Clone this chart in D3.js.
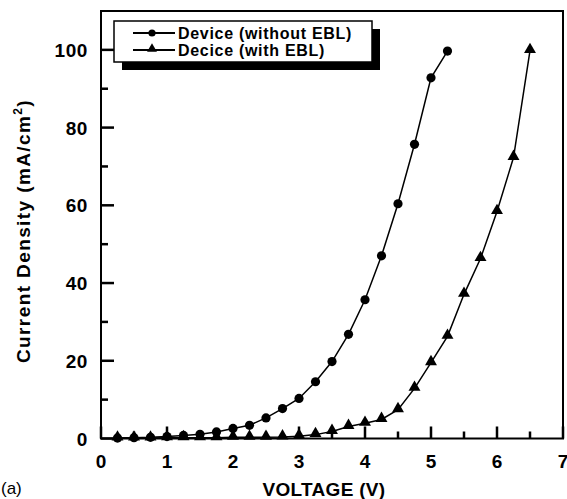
<!DOCTYPE html>
<html><head><meta charset="utf-8">
<script src="https://cdn.jsdelivr.net/npm/d3@7"></script>
<style>body{margin:0;background:#fff}svg{display:block}</style>
</head><body>
<script>
const seriesNames = ["Device (without EBL)", "Decice (with EBL)"];
const voltA = [0.25,0.5,0.75,1.0,1.25,1.5,1.75,2.0,2.25,2.5,2.75,3.0,3.25,3.5,3.75,4.0,4.25,4.5,4.75,5.0,5.25];
const currA = [0.1,0.2,0.3,0.5,0.8,1.1,1.7,2.6,3.4,5.3,7.7,10.3,14.6,19.8,26.8,35.7,47.0,60.4,75.7,92.8,99.7];
const voltB = [0.25,0.5,0.75,1.0,1.25,1.5,1.75,2.0,2.25,2.5,2.75,3.0,3.25,3.5,3.75,4.0,4.25,4.5,4.75,5.0,5.25,5.5,5.75,6.0,6.25,6.5];
const currB = [0.1,0.1,0.1,0.2,0.2,0.2,0.2,0.3,0.3,0.3,0.4,0.6,1.0,1.8,3.1,3.9,4.9,7.4,12.9,19.5,26.3,37.1,46.3,58.4,72.3,99.8];
const xTicks = [0,1,2,3,4,5,6,7];
const yTicks = [0,20,40,60,80,100];
const xMinorTicks = [0.5,1.5,2.5,3.5,4.5,5.5,6.5];
const yMinorTicks = [10,30,50,70,90];

const W=567,H=499;
const m={l:101,r:4,t:11,b:61};
const svg=d3.select("body").append("svg").attr("width",W).attr("height",H);
const x=d3.scaleLinear().domain([0,7]).range([m.l,W-m.r]);
const y=d3.scaleLinear().domain([0,110]).range([H-m.b+0.5,m.t]);
const font="Liberation Sans, Arial, sans-serif";

// frame
svg.append("rect").attr("x",x(0)).attr("y",y(110)).attr("width",x(7)-x(0)).attr("height",y(0)-y(110))
  .attr("fill","none").attr("stroke","#000").attr("stroke-width",2);

svg.append("g").selectAll("text").data(xTicks).join("text")
  .attr("x",d=>x(d)).attr("y",y(0)+29).attr("text-anchor","middle").text(d=>d)
  .attr("font-family",font).attr("font-weight","bold").attr("font-size",19);
svg.append("g").selectAll("text").data(yTicks).join("text")
  .attr("x",x(0)-13).attr("y",d=>y(d)+7).attr("text-anchor","end").text(d=>d)
  .attr("font-family",font).attr("font-weight","bold").attr("font-size",19).attr("letter-spacing",0.6);

const line=d3.line().x(d=>x(d[0])).y(d=>y(d[1]));
const dA=voltA.map((v,i)=>[v,currA[i]]);
const dB=voltB.map((v,i)=>[v,currB[i]]);
svg.append("path").datum(dA).attr("d",line).attr("fill","none").attr("stroke","#000").attr("stroke-width",1.5);
svg.append("path").datum(dB).attr("d",line).attr("fill","none").attr("stroke","#000").attr("stroke-width",1.5);
const tri=d3.symbol().type(d3.symbolTriangle).size(62);
svg.append("g").selectAll("path").data(dB).join("path").attr("d",tri)
  .attr("transform",d=>`translate(${x(d[0])},${y(d[1])-1})`).attr("fill","#000");
svg.append("g").selectAll("circle").data(dA).join("circle")
  .attr("cx",d=>x(d[0])).attr("cy",d=>y(d[1])).attr("r",4.6).attr("fill","#000");

// inward ticks drawn from the scales
const tickG=svg.append("g").attr("fill","#000");
tickG.selectAll("rect.xM").data(xTicks).join("rect").attr("class","xM")
  .attr("x",d=>x(d)-1.25).attr("y",y(0)-12).attr("width",2.5).attr("height",12);
tickG.selectAll("rect.xm").data(xMinorTicks).join("rect").attr("class","xm")
  .attr("x",d=>x(d)-1.25).attr("y",y(0)-7).attr("width",2.5).attr("height",7);
tickG.selectAll("rect.yM").data(yTicks).join("rect").attr("class","yM")
  .attr("x",x(0)).attr("y",d=>y(d)-1.25).attr("width",13).attr("height",2.5);
tickG.selectAll("rect.ym").data(yMinorTicks).join("rect").attr("class","ym")
  .attr("x",x(0)).attr("y",d=>y(d)-1.25).attr("width",7).attr("height",2.5);

// legend
const lg=svg.append("g").attr("transform","translate(114,21)");
lg.append("rect").attr("x",8).attr("y",8).attr("width",258).attr("height",41).attr("fill","#000");
lg.append("rect").attr("x",0).attr("y",0).attr("width",258).attr("height",41).attr("fill","#fff").attr("stroke","#000").attr("stroke-width",1.5);
seriesNames.forEach((n,i)=>{
  const yy=12+i*17;
  lg.append("line").attr("x1",19).attr("x2",61).attr("y1",yy).attr("y2",yy).attr("stroke","#000").attr("stroke-width",2);
  if(i===0) lg.append("circle").attr("cx",38).attr("cy",yy).attr("r",3.6).attr("fill","#000");
  else lg.append("path").attr("d",d3.symbol().type(d3.symbolTriangle).size(42)).attr("transform",`translate(38,${yy-1})`).attr("fill","#000");
  lg.append("text").attr("x",64).attr("y",yy+6).text(n).attr("font-family",font).attr("font-weight","bold")
    .attr("font-size",16).attr("letter-spacing",0.7);
});

// axis titles
svg.append("text").attr("x",x(3.5)-8).attr("y",496).attr("text-anchor","middle").attr("font-family",font)
  .attr("font-weight","bold").attr("font-size",19).attr("letter-spacing",0.3).text("VOLTAGE (V)");
const yt=svg.append("text").attr("transform",`translate(30,231) rotate(-90)`).attr("text-anchor","middle")
  .attr("font-family",font).attr("font-weight","bold").attr("font-size",19).attr("letter-spacing",1.4);
yt.append("tspan").text("Current Density (mA/cm");
yt.append("tspan").attr("dy",-8).attr("font-size",12).text("2");
yt.append("tspan").attr("dy",8).text(")");
svg.append("text").attr("x",1).attr("y",494).attr("font-family",font).attr("font-size",17).text("(a)");
</script>
</body></html>
